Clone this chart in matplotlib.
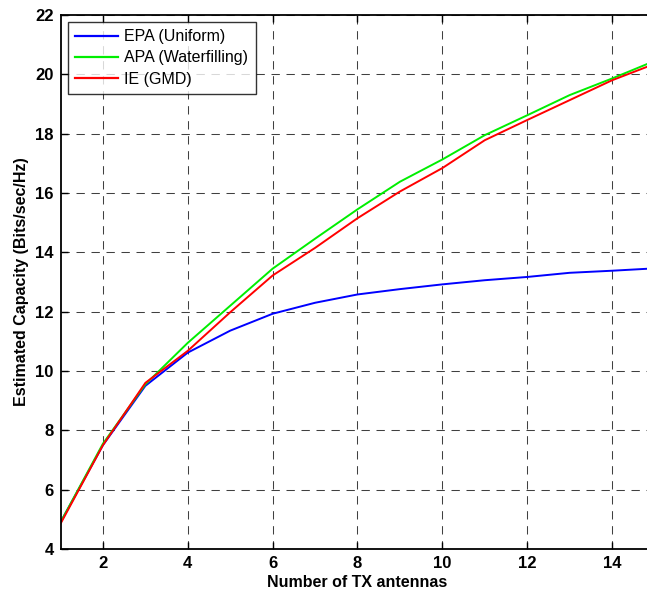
import matplotlib
matplotlib.use("Agg")
import matplotlib.pyplot as plt

plt.rcParams['font.family'] = ['Liberation Sans', 'DejaVu Sans']

antennas = [1, 2, 3, 4, 5, 6, 7, 8, 9, 10, 11, 12, 13, 14, 15]
epa = [4.9, 7.5, 9.5, 10.62, 11.36, 11.93, 12.3, 12.58, 12.76, 12.92, 13.06, 13.17, 13.31, 13.38, 13.46]
apa = [4.9, 7.55, 9.55, 10.95, 12.2, 13.45, 14.46, 15.45, 16.38, 17.13, 17.95, 18.62, 19.3, 19.86, 20.45]
ie = [4.85, 7.5, 9.6, 10.68, 11.98, 13.22, 14.15, 15.15, 16.05, 16.84, 17.78, 18.46, 19.13, 19.8, 20.35]

fig = plt.figure(figsize=(6.47, 5.93), dpi=100)
ax = fig.add_axes([60.5/647, 44/593, 594/647, 534/593])

ax.plot(antennas, epa, color='#0000ff', lw=1.4, label='EPA (Uniform)')
ax.plot(antennas, apa, color='#00ee00', lw=1.4, label='APA (Waterfilling)')
ax.plot(antennas, ie, color='#ff0000', lw=1.4, label='IE (GMD)')

ax.set_xlim(1, 15)
ax.set_ylim(4, 22)
ax.set_xticks([2, 4, 6, 8, 10, 12, 14])
ax.set_yticks([4, 6, 8, 10, 12, 14, 16, 18, 20, 22])
ax.grid(True, color='black', linestyle=(0, (8, 6.4)), linewidth=0.75, alpha=0.75)
ax.tick_params(direction='in', length=5, width=1, labelsize=12, pad=5, top=True, right=True)
for lbl in ax.get_xticklabels() + ax.get_yticklabels():
    lbl.set_fontweight('bold')
for s in ax.spines.values():
    s.set_linewidth(1.3)

ax.set_xlabel('Number of TX antennas', fontsize=11.5, fontweight='bold', labelpad=3)
ax.set_ylabel('Estimated Capacity (Bits/sec/Hz)', fontsize=11.5, fontweight='bold', labelpad=4)

leg = ax.legend(loc='upper left', fontsize=11.5, frameon=True, fancybox=False,
                edgecolor='black', borderaxespad=0.45, handlelength=2.7,
                handletextpad=0.4, labelspacing=0.38, borderpad=0.45)
leg.get_frame().set_linewidth(1.0)
for h in leg.get_lines():
    h.set_linewidth(1.6)

fig.savefig('out.png', dpi=100)
